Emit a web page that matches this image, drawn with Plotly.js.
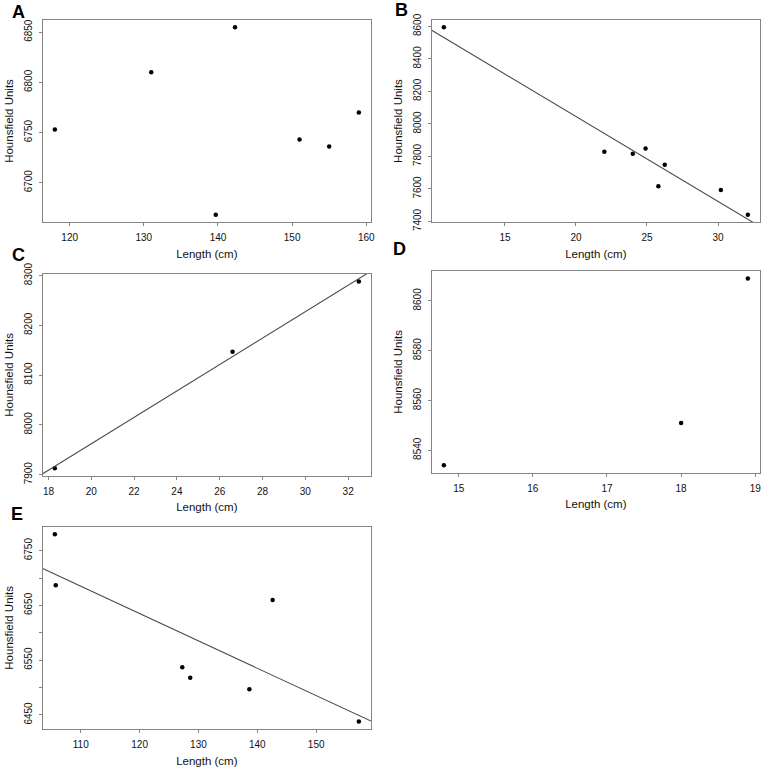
<!DOCTYPE html>
<html>
<head>
<meta charset="utf-8">
<script src="https://cdn.plot.ly/plotly-3.0.1.min.js"></script>
<style>
  html, body { margin: 0; padding: 0; background: #fff; }
  #chart { width: 765px; height: 773px; }
</style>
</head>
<body>
<div id="chart"></div>
<script>
// values
const aLength = [118, 131, 139.7, 142.3, 151, 155, 159];
const aHU = [6753, 6810, 6668, 6855, 6743, 6736, 6770];

const bLength = [10.7, 22, 24, 24.9, 25.8, 26.25, 30.2, 32.1];
const bHU = [8595, 7829, 7816, 7849, 7616, 7749, 7594, 7441];

const cLength = [18.3, 26.6, 32.5];
const cHU = [7913, 8147, 8288];

const dLength = [14.8, 18.0, 18.9];
const dHU = [8534, 8551, 8609];

const eLength = [105.6, 105.75, 127.25, 128.6, 138.65, 142.6, 157.25];
const eHU = [6780, 6687, 6537, 6518, 6497, 6660, 6438];

const aXTicks = [120, 130, 140, 150, 160];
const aYTicks = [6700, 6750, 6800, 6850];
const bXTicks = [15, 20, 25, 30];
const bYTicks = [7400, 7600, 7800, 8000, 8200, 8400, 8600];
const cXTicks = [18, 20, 22, 24, 26, 28, 30, 32];
const cYTicks = [7900, 8000, 8100, 8200, 8300];
const dXTicks = [15, 16, 17, 18, 19];
const dYTicks = [8540, 8560, 8580, 8600];
const eXTicks = [110, 120, 130, 140, 150];
const eYTicks = [6450, 6500, 6550, 6600, 6650, 6700, 6750];
const eYLabels = ["6450", "", "6550", "", "6650", "", "6750"];

const panelLetters = ["A", "B", "C", "D", "E"];
const xLabel = "Length (cm)";
const yLabel = "Hounsfield Units";

// R style axis range: data range padded by 4%
function rRange(v) {
  const lo = Math.min(...v), hi = Math.max(...v);
  const pad = (hi - lo) * 0.04;
  return [lo - pad, hi + pad];
}

// least squares line, like abline(lm(y ~ x))
function fitLine(x, y, xr) {
  const n = x.length;
  const mx = x.reduce((s, v) => s + v, 0) / n;
  const my = y.reduce((s, v) => s + v, 0) / n;
  let sxy = 0, sxx = 0;
  for (let i = 0; i < n; i++) {
    sxy += (x[i] - mx) * (y[i] - my);
    sxx += (x[i] - mx) * (x[i] - mx);
  }
  const b = sxy / sxx;
  const a = my - b * mx;
  return xr.map((v) => a + b * v);
}

const W = 765, H = 773;
const panels = [
  { x: aLength, y: aHU, fit: false, xt: aXTicks, yt: aYTicks, ytt: null,
    box: [42.7, 371, 19.7, 222.3], letter: [18, 12.5] },
  { x: bLength, y: bHU, fit: true, xt: bXTicks, yt: bYTicks, ytt: null,
    box: [431.7, 760, 19.7, 222.3], letter: [401, 10] },
  { x: cLength, y: cHU, fit: true, xt: cXTicks, yt: cYTicks, ytt: null,
    box: [42.7, 371, 274, 475.7], letter: [18, 255] },
  { x: dLength, y: dHU, fit: false, xt: dXTicks, yt: dYTicks, ytt: null,
    box: [431.7, 760, 271, 472.7], letter: [399, 249] },
  { x: eLength, y: eHU, fit: true, xt: eXTicks, yt: eYTicks, ytt: eYLabels,
    box: [42.7, 371, 526.7, 729], letter: [17, 514] },
];

const font = "Liberation Sans, Arial, Helvetica, sans-serif";
const boxColor = "#858585";
const data = [];
const layout = {
  width: W,
  height: H,
  margin: { l: 0, r: 0, t: 0, b: 0 },
  paper_bgcolor: "#fff",
  plot_bgcolor: "#fff",
  showlegend: false,
  font: { family: font, color: "#111" },
  annotations: [],
};

panels.forEach((p, i) => {
  const k = i === 0 ? "" : String(i + 1);
  const xr = rRange(p.x);
  const yr = rRange(p.y);

  data.push({
    x: p.x,
    y: p.y,
    xaxis: "x" + k,
    yaxis: "y" + k,
    type: "scatter",
    mode: "markers",
    marker: { color: "#000", size: 4.5 },
    cliponaxis: false,
  });
  if (p.fit) {
    data.push({
      x: xr,
      y: fitLine(p.x, p.y, xr),
      xaxis: "x" + k,
      yaxis: "y" + k,
      type: "scatter",
      mode: "lines",
      line: { color: "#4a4a4a", width: 1.1 },
    });
  }

  const common = {
    ticks: "outside",
    ticklen: 3,
    tickwidth: 1,
    tickcolor: boxColor,
    showline: true,
    linecolor: boxColor,
    linewidth: 1,
    mirror: true,
    showgrid: false,
    zeroline: false,
    ticklabelstandoff: 3,
    tickfont: { family: font, size: 10, color: "#111" },
  };

  layout["xaxis" + k] = Object.assign({}, common, {
    domain: [p.box[0] / W, p.box[1] / W],
    range: xr,
    anchor: "y" + k,
    tickmode: "array",
    tickvals: p.xt,
    title: { text: xLabel, font: { family: font, size: 11.5, color: "#111" }, standoff: 7 },
  });
  layout["yaxis" + k] = Object.assign({}, common, {
    domain: [1 - p.box[3] / H, 1 - p.box[2] / H],
    range: yr,
    anchor: "x" + k,
    tickmode: "array",
    tickvals: p.yt,
    ticktext: p.ytt || p.yt.map(String),
    tickangle: -90,
    title: { text: yLabel, font: { family: font, size: 11.5, color: "#111" }, standoff: 6 },
  });

  layout.annotations.push({
    text: "<b>" + panelLetters[i] + "</b>",
    xref: "paper",
    yref: "paper",
    x: p.letter[0] / W,
    y: 1 - p.letter[1] / H,
    xanchor: "center",
    yanchor: "middle",
    showarrow: false,
    font: { family: font, size: 18, color: "#000" },
  });
});

Plotly.newPlot("chart", data, layout, { displayModeBar: false, staticPlot: true });
</script>
</body>
</html>
